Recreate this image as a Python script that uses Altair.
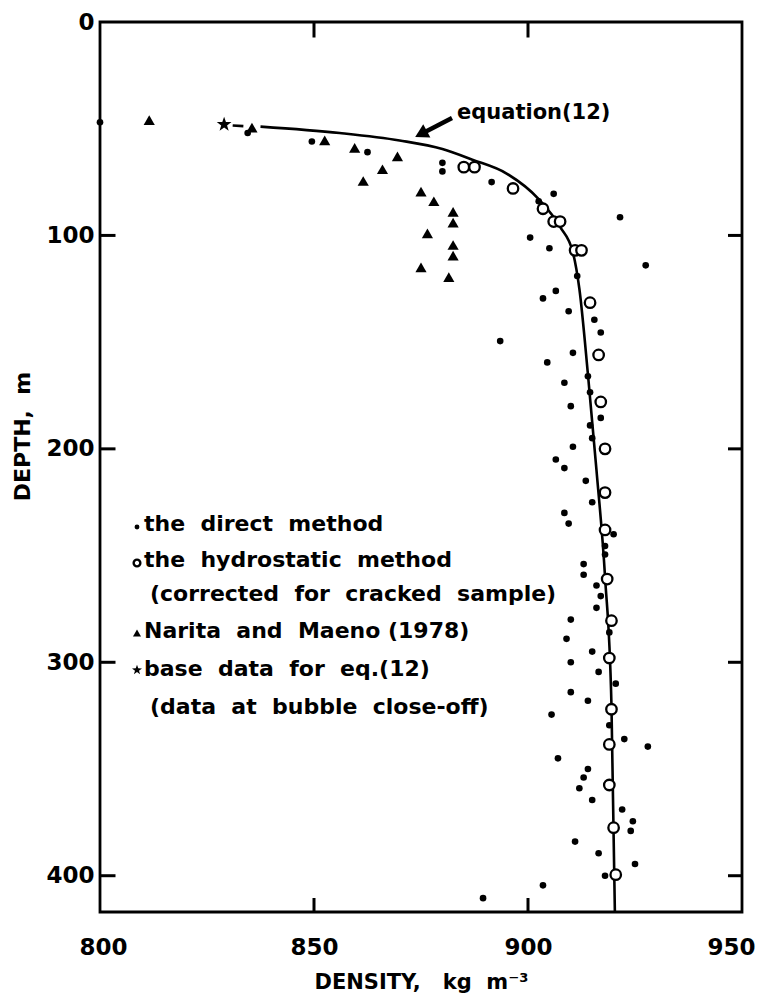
import altair as alt
import pandas as pd

# ---------------- data ----------------
direct_density = [800, 834.5, 849.5, 862.5, 880, 880, 891.5, 906, 902.5, 921.5,
                  900.5, 905, 927.5, 911.5, 906.5, 903.5, 909.5, 915.5, 917, 893.5,
                  910.5, 904.5, 914, 908.5, 914.5, 910, 917, 914.5, 915, 910.5,
                  906.5, 908.5, 913.5, 915, 908.5, 909.5, 920, 918, 918, 913,
                  913, 916, 917, 916, 910, 919, 909, 915, 910, 916.5,
                  920.5, 910, 914, 905.5, 919, 922.5, 928, 907, 914, 913,
                  912, 915, 922, 924.5, 924, 911, 916.5, 925, 918, 903.5, 889.5]
direct_depth = [47, 52, 56, 61, 66, 70, 75, 80.5, 84, 91.5,
                101, 106, 114, 119, 126, 129.5, 135.5, 139.5, 145.5, 149.5,
                155, 159.5, 166, 169, 173.5, 180, 185.5, 189, 195, 199,
                205, 209, 215, 225, 230, 235, 240, 245.5, 249.5, 254,
                259, 264, 269, 274.5, 280, 286, 289, 295, 300, 304.5,
                310, 314, 318, 324.5, 329.5, 336, 339.5, 345, 350, 354,
                359, 364.5, 369, 374.5, 379, 384, 389.5, 394.5, 400, 404.5, 410.5]

hydro_density = [885, 887.5, 896.5, 903.5, 906, 907.5, 911, 912.5, 914.5, 916.5,
                 917, 918, 918, 918, 918.5, 919.5, 919, 919.5, 919, 919, 920, 920.5]
hydro_depth = [68, 68, 78, 87.5, 93.5, 93.5, 107, 107, 131.5, 156,
               178, 200, 220.5, 238, 261, 280.5, 298, 322, 338.5, 357.5, 377.5, 399.5]

narita_density = [811.5, 835.5, 852.5, 859.5, 869.5, 866, 861.5, 875, 878, 882.5,
                  882.5, 876.5, 882.5, 882.5, 875, 881.5]
narita_depth = [46, 49.5, 55.5, 59, 63, 69, 74.5, 79.5, 84, 89,
                94, 99, 104.5, 109.5, 115, 119.5]

star_density = [829]
star_depth = [48]

eq_density = [837.5, 856, 870, 880, 887, 895, 902.5, 907.5, 910.5, 912,
              914, 916, 918, 919.5, 920.3]
eq_depth = [49, 52, 55.5, 59.5, 64.5, 71, 83, 96, 108, 125,
            165, 210, 260, 320, 417]

dash_density = [831, 833.5]
dash_depth = [48.5, 48.8]

x_ticks = [800, 850, 900, 950]
y_ticks = [0, 100, 200, 300, 400]
inner_x_ticks = [850, 900]
inner_y_ticks = [100, 200, 300, 400]

NB = "\u00a0"
legend_lines = ["the" + NB * 2 + "direct" + NB * 2 + "method",
                "the" + NB * 2 + "hydrostatic" + NB * 2 + "method",
                "(corrected" + NB * 2 + "for" + NB * 2 + "cracked" + NB * 2 + "sample)",
                "Narita" + NB * 2 + "and" + NB * 2 + "Maeno" + NB + "(1978)",
                "base" + NB * 2 + "data" + NB * 2 + "for" + NB * 2 + "eq.(12)",
                "(data" + NB * 2 + "at" + NB * 2 + "bubble" + NB * 2 + "close-off)"]

STAR = ("M0,-1L0.235,-0.324L0.951,-0.309L0.380,0.124L0.588,0.809L0,0.4"
        "L-0.588,0.809L-0.380,0.124L-0.951,-0.309L-0.235,-0.324Z")

# ---------------- layout ----------------
W, H = 642, 890
FONT = "DejaVu Sans"
X0, X1, Y0, Y1 = 800, 950, 0, 417

xs = alt.Scale(domain=[X0, X1], nice=False, zero=False)
ys = alt.Scale(domain=[Y0, Y1], nice=False, zero=False, reverse=True)

xaxis = alt.Axis(orient="bottom", values=x_ticks, ticks=False, domain=False, grid=False,
                 labelFont=FONT, labelFontSize=23, labelFontWeight="bold",
                 labelColor="black", labelPadding=24, labelFlush=False,
                 labelOverlap=False,
                 labelOffset=alt.ExprRef(expr="datum.value == 950 ? -11 : (datum.value == 800 ? 3 : 0)"),
                 title="DENSITY," + NB * 3 + "kg" + NB * 2 + "m\u207b\u00b3", titleFont=FONT,
                 titleFontSize=21, titleFontWeight="bold", titleColor="black",
                 titleY=70, titleBaseline="middle")
yaxis = alt.Axis(orient="left", values=y_ticks, ticks=False, domain=False, grid=False,
                 labelFont=FONT, labelFontSize=23, labelFontWeight="bold",
                 labelColor="black", labelPadding=6, labelFlush=False,
                 labelOverlap=False,
                 title="DEPTH," + NB * 2 + "m", titleFont=FONT, titleFontSize=22,
                 titleFontWeight="bold", titleColor="black",
                 titleX=-78, titleY=414, titleAngle=-90,
                 titleAlign="center", titleBaseline="middle")


def X(field="density"):
    return alt.X(f"{field}:Q", scale=xs, axis=xaxis)


def Y(field="depth"):
    return alt.Y(f"{field}:Q", scale=ys, axis=yaxis)


direct_df = pd.DataFrame({"density": direct_density, "depth": direct_depth})
hydro_df = pd.DataFrame({"density": hydro_density, "depth": hydro_depth})
narita_df = pd.DataFrame({"density": narita_density, "depth": narita_depth})
star_df = pd.DataFrame({"density": star_density, "depth": star_depth})
eq_df = pd.DataFrame({"density": eq_density, "depth": eq_depth,
                      "o": list(range(len(eq_density)))})
dash_df = pd.DataFrame({"density": dash_density, "depth": dash_depth})

eq_line = alt.Chart(eq_df).mark_line(color="black", strokeWidth=2.6,
                                     interpolate="monotone").encode(
    x=X(), y=Y(), order="o:Q")
dash_line = alt.Chart(dash_df).mark_line(color="black", strokeWidth=2.6).encode(
    x=X(), y=Y())

direct_pts = alt.Chart(direct_df).mark_point(
    shape="circle", filled=True, color="black", size=44, opacity=1).encode(x=X(), y=Y())
hydro_pts = alt.Chart(hydro_df).mark_point(
    shape="circle", filled=True, fill="white", stroke="black", strokeWidth=2.3,
    size=110, opacity=1).encode(x=X(), y=Y())
narita_pts = alt.Chart(narita_df).mark_point(
    shape="triangle-up", filled=True, color="black", size=125, opacity=1).encode(x=X(), y=Y())
star_pts = alt.Chart(star_df).mark_point(
    shape=STAR, filled=True, color="black", size=240, opacity=1).encode(x=X(), y=Y())

# inward frame ticks (tick marks placed just inside the frame)
ty = pd.DataFrame({"depth": inner_y_ticks})
tx = pd.DataFrame({"density": inner_x_ticks})
left_ticks = alt.Chart(ty).mark_tick(color="black", thickness=3, size=15,
                                     orient="horizontal", opacity=1).encode(
    y=Y(), x=alt.value(8))
right_ticks = alt.Chart(ty).mark_tick(color="black", thickness=3, size=14,
                                      orient="horizontal", opacity=1).encode(
    y=Y(), x=alt.value(W - 7))
top_ticks = alt.Chart(tx).mark_tick(color="black", thickness=3, size=15,
                                    orient="vertical", opacity=1).encode(
    x=X(), y=alt.value(8))
bottom_ticks = alt.Chart(tx).mark_tick(color="black", thickness=3, size=14,
                                       orient="vertical", opacity=1).encode(
    x=X(), y=alt.value(H - 7))

# equation annotation
one = pd.DataFrame({"a": [0]})
eq_text = alt.Chart(one).mark_text(
    text="equation(12)", font=FONT, fontSize=21, fontWeight="bold",
    align="left", baseline="middle", color="black").encode(
    x=alt.value(357), y=alt.value(91))
arrow_shaft = alt.Chart(one).mark_rule(color="black", strokeWidth=4.5).encode(
    x=alt.value(352), y=alt.value(96), x2=alt.value(325), y2=alt.value(110))
arrow_head = alt.Chart(one).mark_point(
    shape="triangle-up", filled=True, color="black", size=230, angle=242,
    opacity=1).encode(x=alt.value(321), y=alt.value(112))

# manual legend
leg_layers = []
sym_x = 37
line_y = [502, 538, 572, 609, 647, 685]
text_x = [44, 44, 50, 44, 44, 50]
for s, yy, xx in zip(legend_lines, line_y, text_x):
    leg_layers.append(alt.Chart(one).mark_text(
        text=s, font=FONT, fontSize=22, fontWeight="bold", align="left",
        baseline="middle", color="black").encode(x=alt.value(xx), y=alt.value(yy)))
leg_layers.append(alt.Chart(one).mark_point(
    shape="circle", filled=True, color="black", size=24, opacity=1).encode(
    x=alt.value(sym_x), y=alt.value(line_y[0] + 3)))
leg_layers.append(alt.Chart(one).mark_point(
    shape="circle", filled=False, color="black", strokeWidth=2.4, size=45, opacity=1).encode(
    x=alt.value(sym_x), y=alt.value(line_y[1] + 3)))
leg_layers.append(alt.Chart(one).mark_point(
    shape="triangle-up", filled=True, color="black", size=65, opacity=1).encode(
    x=alt.value(sym_x), y=alt.value(line_y[3] + 2)))
leg_layers.append(alt.Chart(one).mark_point(
    shape=STAR, filled=True, color="black", size=110, opacity=1).encode(
    x=alt.value(sym_x), y=alt.value(line_y[4] + 1)))

chart = alt.layer(
    eq_line, dash_line, direct_pts, hydro_pts, narita_pts, star_pts,
    left_ticks, right_ticks, top_ticks, bottom_ticks,
    eq_text, arrow_shaft, arrow_head, *leg_layers
).properties(
    width=W, height=H, autosize="none",
    padding={"left": 100, "top": 22, "right": 16, "bottom": 82},
    background="white"
).configure_view(stroke="black", strokeWidth=2.8)

chart.save("out.html", embed_options={"renderer": "svg", "actions": False})
